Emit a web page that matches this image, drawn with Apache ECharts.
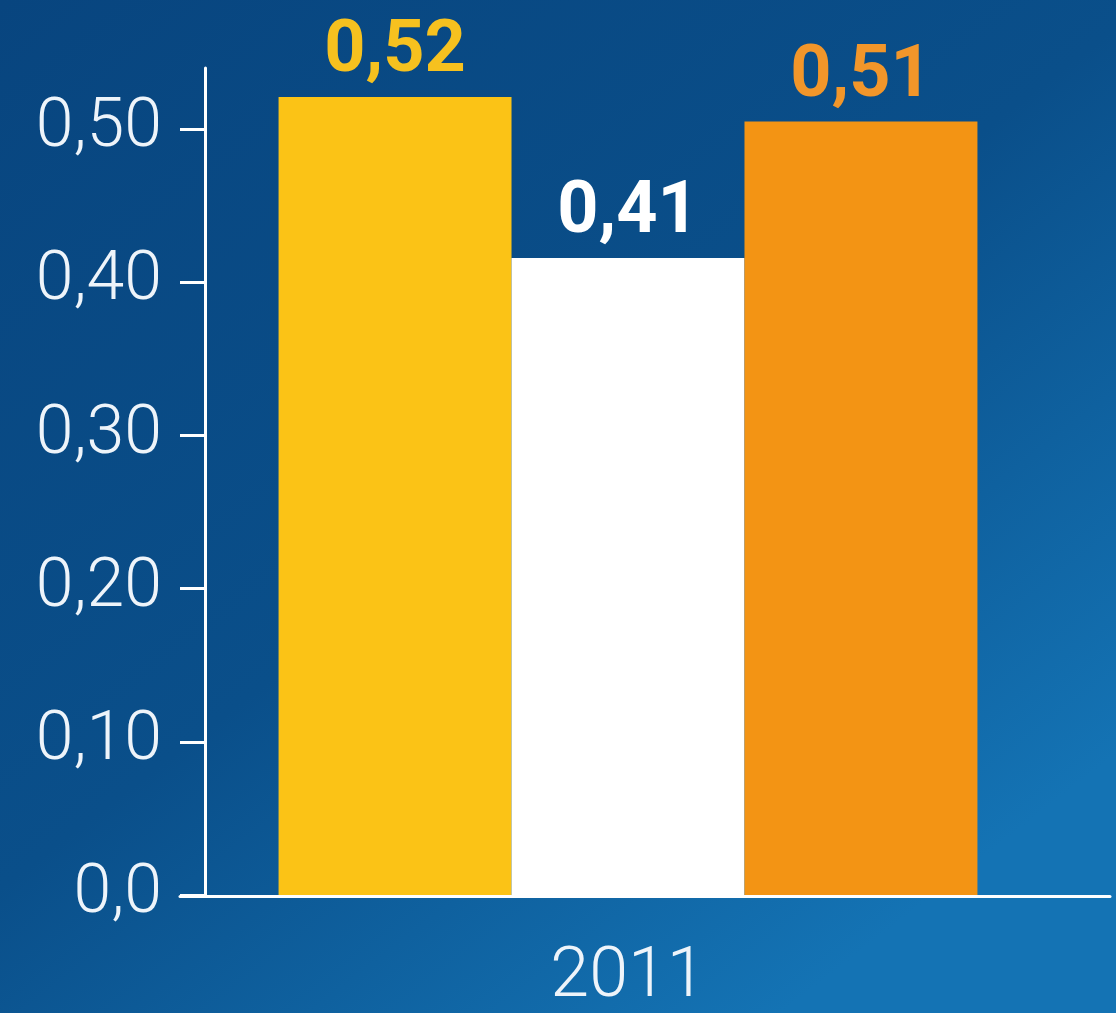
<!DOCTYPE html>
<html>
<head>
<meta charset="utf-8">
<script src="https://cdn.jsdelivr.net/npm/echarts@6/dist/echarts.min.js"></script>
<style>
  html, body { margin: 0; padding: 0; width: 1116px; height: 1013px; overflow: hidden; }
  #chart { width: 1116px; height: 1013px; }
</style>
</head>
<body>
<div id="chart"></div>
<script>
// ---- data ----
const categories = ['2011'];
const seriesNames = ['A', 'B', 'C'];
const seriesValues = [0.521, 0.416, 0.505];
const valueLabels = ['0,52', '0,41', '0,51'];
const seriesColors = ['#FBC316', '#FFFFFF', '#F39414'];
const labelColors = ['#F6C11F', '#FFFFFF', '#F2962A'];
const yTickValues = [0, 0.1, 0.2, 0.3, 0.4, 0.5];
const yTickLabels = ['0,0', '0,10', '0,20', '0,30', '0,40', '0,50'];

const FONT = '"Liberation Sans Narrow", Roboto, "DejaVu Sans Condensed", sans-serif';

const chart = echarts.init(document.getElementById('chart'));

const series = seriesNames.map((name, i) => ({
  name: name,
  type: 'bar',
  xAxisIndex: 0,
  yAxisIndex: 0,
  barGap: '0%',
  barCategoryGap: '22%',
  data: [seriesValues[i]],
  itemStyle: { color: seriesColors[i] },
  z: 3,
  label: {
    show: true,
    position: 'top',
    distance: 8,
    formatter: () => valueLabels[i],
    color: labelColors[i],
    fontFamily: FONT,
    fontWeight: 'bold',
    fontSize: 72
  }
}));

chart.setOption({
  backgroundColor: new echarts.graphic.LinearGradient(0, 0, 0.7, 1, [
    { offset: 0, color: '#08457F' },
    { offset: 0.55, color: '#0A4F8A' },
    { offset: 1, color: '#1473B4' }
  ]),
  animation: false,
  grid: [
    { left: 180, right: 40, top: 68, bottom: 117, containLabel: false },
    { left: 180, right: 6, top: 68, bottom: 117, containLabel: false }
  ],
  xAxis: [
    {
      type: 'category',
      gridIndex: 0,
      data: categories,
      axisLine: { show: false },
      axisTick: { show: false },
      axisLabel: {
        color: '#EEF4FA',
        fontFamily: FONT,
        fontWeight: 300,
        fontSize: 70,
        margin: 48
      }
    },
    {
      type: 'value',
      gridIndex: 1,
      min: 0,
      max: 1,
      z: 1,
      axisLine: { show: true, lineStyle: { color: '#FFFFFF', width: 3 } },
      axisTick: { show: false },
      axisLabel: { show: false },
      splitLine: { show: false }
    }
  ],
  yAxis: [
    {
      type: 'value',
      gridIndex: 0,
      min: 0,
      max: 0.54,
      interval: 0.1,
      offset: -25,
      axisLine: { show: true, onZero: false, lineStyle: { color: '#FFFFFF', width: 3 } },
      axisTick: {
        show: true,
        length: 25,
        customValues: yTickValues,
        lineStyle: { color: '#FFFFFF', width: 3 }
      },
      axisLabel: {
        customValues: yTickValues,
        formatter: (v) => {
          const idx = yTickValues.findIndex(t => Math.abs(t - v) < 1e-9);
          return idx >= 0 ? yTickLabels[idx] : '';
        },
        color: '#EEF4FA',
        fontFamily: FONT,
        fontWeight: 300,
        fontSize: 68,
        margin: 43
      },
      splitLine: { show: false }
    },
    {
      type: 'value',
      gridIndex: 1,
      min: 0,
      max: 1,
      show: false
    }
  ],
  series: series
});
</script>
</body>
</html>
